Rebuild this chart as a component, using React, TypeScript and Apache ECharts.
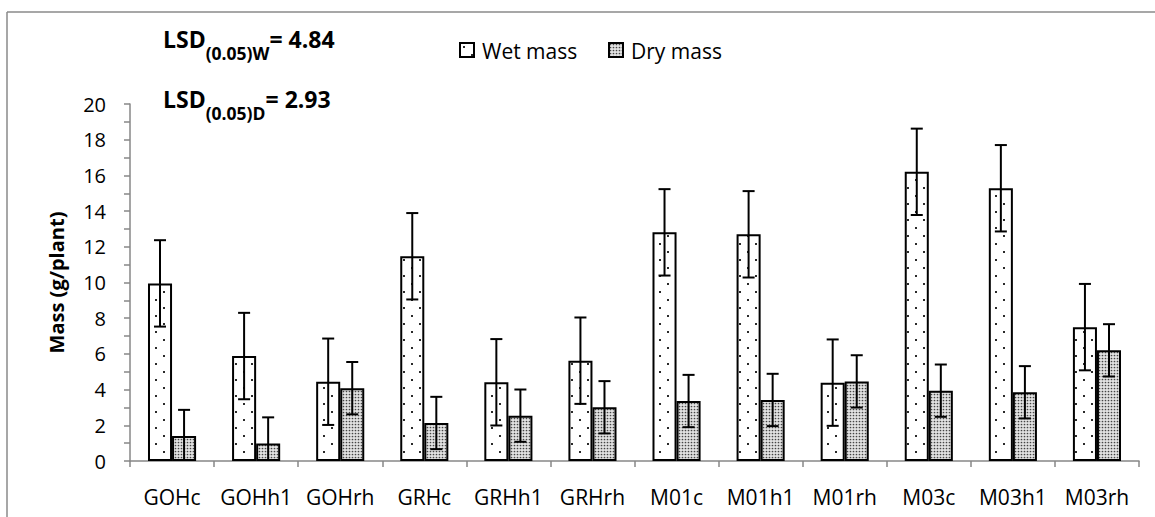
import React, { useEffect, useRef } from "react";
import * as echarts from "echarts";

// Treatments on the category axis
const treatments = ["GOHc", "GOHh1", "GOHrh", "GRHc", "GRHh1", "GRHrh", "M01c", "M01h1", "M01rh", "M03c", "M03h1", "M03rh"];

// Mean mass per plant (g)
const wetMass = [9.95, 5.88, 4.44, 11.47, 4.41, 5.62, 12.81, 12.7, 4.39, 16.2, 15.28, 7.5];
const dryMass = [1.4, 0.98, 4.08, 2.13, 2.54, 3.01, 3.36, 3.42, 4.46, 3.94, 3.85, 6.2];

// Least significant differences; error bars span ± LSD / 2
const lsdWet = 4.84;
const lsdDry = 2.93;

const yTicks = { min: 0, max: 20, interval: 2 };

const FONT = "'Open Sans', 'Noto Sans', sans-serif";
const AXIS_GREY = "#878787";

function makeWetPattern(): HTMLCanvasElement {
  const c = document.createElement("canvas");
  c.width = 16;
  c.height = 16;
  const g = c.getContext("2d")!;
  g.fillStyle = "#ffffff";
  g.fillRect(0, 0, 16, 16);
  g.fillStyle = "#2a2a2a";
  g.fillRect(3, 3, 2, 2);
  g.fillRect(11, 11, 2, 2);
  return c;
}

function makeDryPattern(): HTMLCanvasElement {
  const c = document.createElement("canvas");
  c.width = 3;
  c.height = 3;
  const g = c.getContext("2d")!;
  g.fillStyle = "#e2e2e2";
  g.fillRect(0, 0, 3, 3);
  g.fillStyle = "#454545";
  g.beginPath();
  g.arc(1.5, 1.5, 0.85, 0, Math.PI * 2);
  g.fill();
  return c;
}

const BAR_FRACTION = 0.286;

function errorBarSeries(name: string, values: number[], half: number, side: number) {
  return {
    name: name + " error",
    type: "custom",
    z: 5,
    silent: true,
    data: values.map((v, i) => [i, v - half, v + half]),
    renderItem: (params: any, api: any) => {
      const idx = api.value(0);
      const band = api.size([1, 0])[0];
      const offset = ((band * BAR_FRACTION) / 2) * side;
      const lowValue = api.value(1);
      const clipped = lowValue < yTicks.min;
      const low = api.coord([idx, clipped ? yTicks.min : lowValue]);
      const high = api.coord([idx, api.value(2)]);
      const x = low[0] + offset;
      const cap = (band * BAR_FRACTION) / 4;
      const style = { stroke: "#000", lineWidth: 2, fill: "none" };
      const children: any[] = [
        { type: "line", shape: { x1: x, y1: low[1], x2: x, y2: high[1] }, style },
        { type: "line", shape: { x1: x - cap, y1: high[1], x2: x + cap, y2: high[1] }, style },
      ];
      if (!clipped) {
        children.push({ type: "line", shape: { x1: x - cap, y1: low[1], x2: x + cap, y2: low[1] }, style });
      }
      return { type: "group", children };
    },
  };
}

function lsdText(top: number, sub: string, value: number) {
  return {
    type: "text",
    left: 163,
    top,
    style: {
      text: `{a|LSD}{b|${sub}}{a|= ${value.toFixed(2)}}`,
      fill: "#000",
      rich: {
        a: { fontSize: 23, fontWeight: "bold", fontFamily: FONT, lineHeight: 26, verticalAlign: "top", fill: "#000" },
        b: { fontSize: 17.5, fontWeight: "bold", fontFamily: FONT, lineHeight: 18, padding: [17, 0, 0, 0], verticalAlign: "top", fill: "#000" },
      },
    },
  };
}

// Legend keys: a patterned swatch inside a black frame, then the label
function legendEntry(x: number, label: string, fill: any) {
  const y = 43;
  const s = 14;
  return {
    type: "group",
    x,
    y,
    children: [
      { type: "rect", shape: { x: -1, y: -1, width: s + 2, height: s + 2 }, style: { fill: "#000" } },
      { type: "rect", shape: { x: 1, y: 1, width: s - 2, height: s - 2 }, style: { fill } },
      {
        type: "text",
        style: { x: 22, y: 8, text: label, fontSize: 21, fontFamily: FONT, fill: "#000", verticalAlign: "middle", align: "left" },
      },
    ],
  };
}

export default function App() {
  const ref = useRef<HTMLDivElement>(null);

  useEffect(() => {
    if (!ref.current) return;
    const chart = echarts.init(ref.current, null, { renderer: "svg" });
    const wetFill = { image: makeWetPattern(), repeat: "repeat" };
    const dryFill = { image: makeDryPattern(), repeat: "repeat" };
    const wetKey = { image: makeWetPattern(), repeat: "repeat" };
    const dryKey = { image: makeDryPattern(), repeat: "repeat" };

    chart.setOption({
      animation: false,
      backgroundColor: "#ffffff",
      textStyle: { fontFamily: FONT },
      grid: { left: 130, right: 16, top: 104, bottom: 56, containLabel: false },
      xAxis: {
        type: "category",
        data: treatments,
        boundaryGap: true,
        axisLine: { lineStyle: { color: AXIS_GREY, width: 1.5 } },
        axisTick: { show: true, length: 6, inside: false, lineStyle: { color: AXIS_GREY, width: 1.5 } },
        axisLabel: { color: "#000", fontSize: 21, margin: 25, fontFamily: FONT, interval: 0 },
        splitLine: { show: false },
      },
      yAxis: {
        type: "value",
        min: yTicks.min,
        max: yTicks.max,
        interval: yTicks.interval,
        name: "Mass (g/plant)",
        nameLocation: "middle",
        nameGap: 64,
        nameRotate: 90,
        nameTextStyle: { fontSize: 20, fontWeight: "bold", color: "#000", fontFamily: FONT },
        axisLine: { show: true, lineStyle: { color: AXIS_GREY, width: 1.5 } },
        axisTick: { show: true, length: 6, inside: false, lineStyle: { color: AXIS_GREY, width: 1.5 } },
        minorTick: { show: true, splitNumber: 2, length: 6, lineStyle: { color: AXIS_GREY, width: 1.5 } },
        axisLabel: { color: "#000", fontSize: 20, margin: 24, fontFamily: FONT },
        splitLine: { show: false },
      },
      series: [
        {
          name: "Wet mass",
          type: "bar",
          data: wetMass,
          barWidth: BAR_FRACTION * 100 + "%",
          barGap: "0%",
          itemStyle: { color: wetFill, borderColor: "#000", borderWidth: 2 },
        },
        {
          name: "Dry mass",
          type: "bar",
          data: dryMass,
          barWidth: BAR_FRACTION * 100 + "%",
          barGap: "0%",
          itemStyle: { color: dryFill, borderColor: "#000", borderWidth: 2 },
        },
        errorBarSeries("Wet mass", wetMass, lsdWet / 2, -1),
        errorBarSeries("Dry mass", dryMass, lsdDry / 2, 1),
      ],
      graphic: [
        { type: "line", shape: { x1: 7, y1: 12, x2: 1155, y2: 12 }, style: { stroke: "#8a8a8a", lineWidth: 1.5 } },
        { type: "line", shape: { x1: 7, y1: 12, x2: 7, y2: 517 }, style: { stroke: "#8a8a8a", lineWidth: 1.5 } },
        lsdText(27, "(0.05)W", lsdWet),
        lsdText(87, "(0.05)D", lsdDry),
        legendEntry(460, "Wet mass", wetKey),
        legendEntry(609, "Dry mass", dryKey),
      ],
    });

    return () => chart.dispose();
  }, []);

  return <div ref={ref} style={{ position: "fixed", left: 0, top: 0, width: 1155, height: 517 }} />;
}
